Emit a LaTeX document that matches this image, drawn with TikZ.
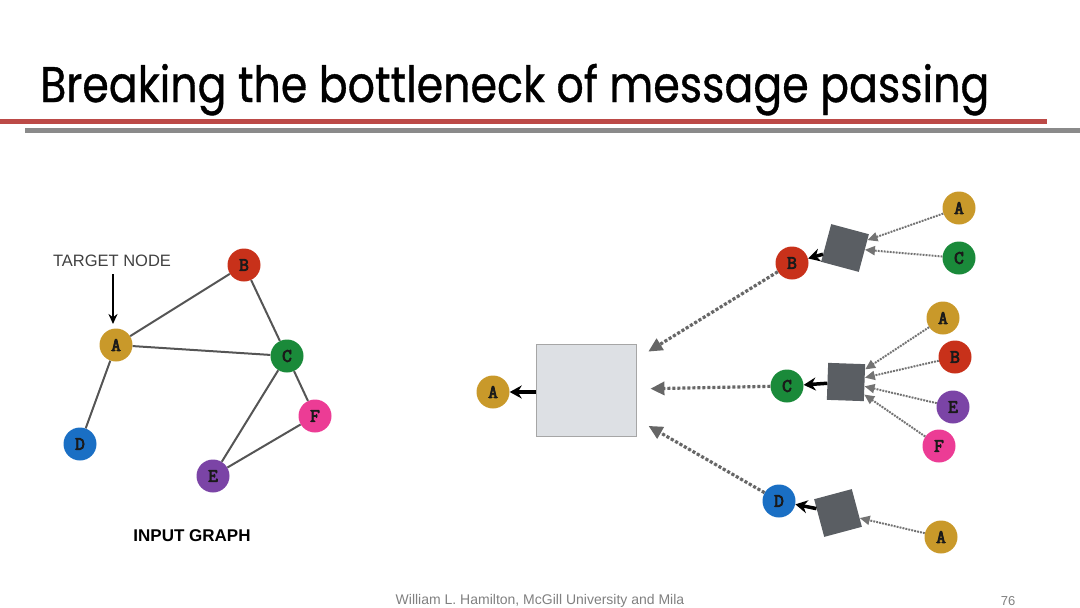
\documentclass[tikz,border=0pt]{standalone}
\usepackage{fontspec}
\setmainfont{Liberation Sans}
\newfontfamily\titlefont[FakeBold=0.8]{Poppins}
\newfontfamily\letterfont[FakeBold=4]{Latin Modern Mono}
\usetikzlibrary{arrows.meta}
\definecolor{cA}{HTML}{C9992A}
\definecolor{cB}{HTML}{C8311A}
\definecolor{cC}{HTML}{1A8A3A}
\definecolor{cD}{HTML}{1A6FC4}
\definecolor{cE}{HTML}{7B44A6}
\definecolor{cF}{HTML}{EC3C95}
\definecolor{sqgray}{HTML}{5A5E63}
\definecolor{boxgray}{HTML}{DDE0E4}
\definecolor{edgegray}{HTML}{555555}
\definecolor{redline}{HTML}{BC4A47}
\definecolor{greyline}{HTML}{8A8A8A}
\definecolor{letter}{HTML}{1A1A1A}
\tikzset{
  gnode/.style={circle, fill=#1, minimum size=33pt, inner sep=0pt, text=letter,
    font=\letterfont\fontsize{19}{19}\selectfont},
  gedge/.style={draw=edgegray, line width=2pt},
  sqbox/.style={rectangle, fill=sqgray, minimum size=39pt, inner sep=0pt},
  outarrow/.style={-{Stealth[length=12pt,width=13pt]}, line width=3.5pt, black},
  inarrow/.style={-{Triangle[length=10pt,width=9pt]}, draw=gray!90!black, fill=gray!90!black,
    line width=2pt, dash pattern=on 1.8pt off 1.2pt},
  bigarrow/.style={-{Triangle[length=14pt,width=13pt]}, draw=gray!80!black, fill=gray!80!black,
    line width=3.2pt, dash pattern=on 3pt off 2pt, shorten >=14pt},
}
\begin{document}
\begin{tikzpicture}[x=1pt,y=-1pt]
\useasboundingbox (0,0) rectangle (1080,608);
% title
\node[anchor=base west, inner sep=0pt, xscale=0.855, font=\titlefont\fontsize{50}{50}\selectfont] (title) at (40,102) {Breaking the bottleneck of message passing};
\fill[redline] (0,119) rectangle (1047,124);
\fill[greyline] (25,128) rectangle (1080,133);
% left graph
\node[gnode=cB] (lB) at (244,265) {B};
\node[gnode=cA] (lA) at (116,345) {A};
\node[gnode=cC] (lC) at (287,356) {C};
\node[gnode=cF] (lF) at (315,416) {F};
\node[gnode=cD] (lD) at (80,444) {D};
\node[gnode=cE] (lE) at (213,476) {E};
\draw[gedge] (lA) -- (lB);
\draw[gedge] (lA) -- (lC);
\draw[gedge] (lA) -- (lD);
\draw[gedge] (lB) -- (lC);
\draw[gedge] (lC) -- (lE);
\draw[gedge] (lC) -- (lF);
\draw[gedge] (lF) -- (lE);
\node[font=\fontsize{16.5}{16.5}\selectfont, text=black!75] (tgt) at (112,261) {TARGET NODE};
\coordinate (tgtend) at (113,324);
\draw[-{Stealth[length=10pt,width=9pt]}, line width=1.8pt] (113,274) -- (tgtend);
\node[font=\bfseries\fontsize{17}{17}\selectfont] (ig) at (192,536) {INPUT GRAPH};
% right: computation graph
\node[gnode=cA] (rA) at (493,392) {A};
\node[rectangle, fill=boxgray, draw=gray!70, line width=0.8pt, minimum width=100pt, minimum height=92pt] (big) at (586,390) {};
\draw[outarrow] (big.west |- rA) -- (rA);

\node[gnode=cB] (rB) at (792,263) {B};
\node[gnode=cC] (rC) at (787,386) {C};
\node[gnode=cD] (rD) at (779,501) {D};

\node[sqbox, rotate=-15] (s1) at (845,248) {};
\node[sqbox, minimum size=37pt, rotate=-2] (s2) at (846,382) {};
\node[sqbox, rotate=15] (s3) at (838,513) {};

\draw[outarrow] (s1) -- (rB);
\draw[outarrow] (s2) -- (rC);
\draw[outarrow] (s3) -- (rD);

\node[gnode=cA] (b1A) at (959,208) {A};
\node[gnode=cC] (b1C) at (959,258) {C};
\node[gnode=cA] (b2A) at (943,318) {A};
\node[gnode=cB] (b2B) at (955,357) {B};
\node[gnode=cE] (b2E) at (953,407) {E};
\node[gnode=cF] (b2F) at (939,446) {F};
\node[gnode=cA] (b3A) at (941,537) {A};

\draw[inarrow] (b1A) -- (s1);
\draw[inarrow] (b1C) -- (s1);
\draw[inarrow] (b2A) -- (s2);
\draw[inarrow] (b2B) -- (s2);
\draw[inarrow] (b2E) -- (s2);
\draw[inarrow] (b2F) -- (s2);
\draw[inarrow] (b3A) -- (s3);

\draw[bigarrow] (rB) -- (big);
\draw[bigarrow] (rC) -- (big);
\draw[bigarrow] (rD) -- (big);

% footer
\node[font=\fontsize{14}{14}\selectfont, text=gray] (foot) at (540,601) {William L. Hamilton, McGill University and Mila};
\node[font=\fontsize{13}{13}\selectfont, text=gray] (pg) at (1008,601) {76};
\end{tikzpicture}
\end{document}
